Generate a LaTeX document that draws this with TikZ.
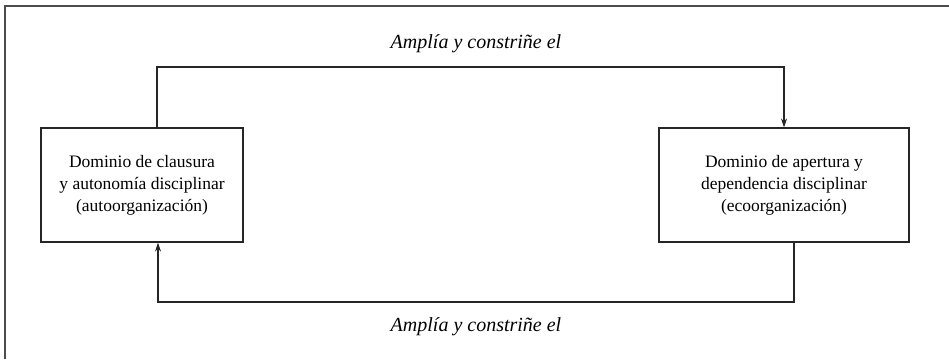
\documentclass[tikz,border=0pt]{standalone}
\usepackage{fontspec}
\setmainfont{Liberation Serif}
\usetikzlibrary{arrows.meta}

\begin{document}
\begin{tikzpicture}[x=1pt,y=-1pt,
  domnode/.style={draw=black!85,line width=1.1pt,align=center,minimum height=114,
    font=\fontsize{17.5}{22}\selectfont},
  lbl/.style={font=\fontsize{20}{24}\selectfont\itshape},
  conn/.style={draw=black!85,line width=1.1pt,-{Stealth[length=9pt,width=6pt]}}]
\useasboundingbox (0,0) rectangle (949,359);
\draw[line width=1.5pt,black!70] (5,359) -- (5,6) -- (949,6);
\node [domnode,minimum width=202] (clausura) at (142,185)
  {Dominio de clausura\\ y autonomía disciplinar\\ (autoorganización)};
\node [domnode,minimum width=250] (apertura) at (784,185)
  {Dominio de apertura y\\ dependencia disciplinar\\ (ecoorganización)};
\coordinate (arriba) at (476,67);
\coordinate (abajo) at (476,302);
\draw [conn] ([xshift=15]clausura.north) |- (arriba) -| (apertura.north);
\draw [conn] ([xshift=10]apertura.south) |- (abajo) -| ([xshift=16]clausura.south);
\node [lbl] (lblarriba) at (476,44) {Amplía y constriñe el};
\node [lbl] (lblabajo) at (476,327) {Amplía y constriñe el};
\end{tikzpicture}
\end{document}
